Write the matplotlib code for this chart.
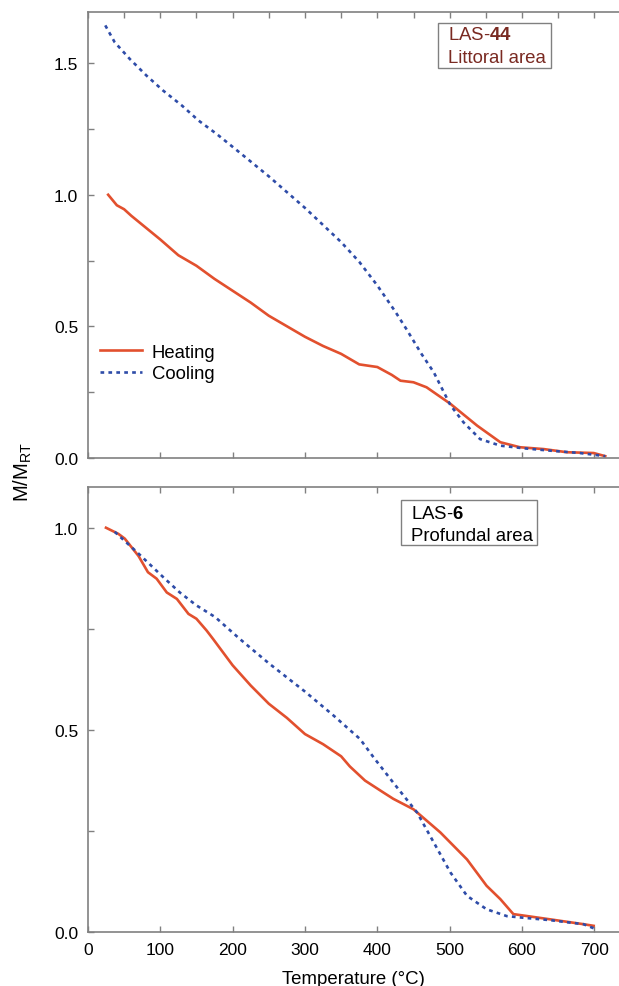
import matplotlib
matplotlib.use('Agg')
import matplotlib.pyplot as plt
from matplotlib.patches import Rectangle
import numpy as np

plt.rcParams['font.family'] = ['Liberation Sans', 'DejaVu Sans']
plt.rcParams['mathtext.fontset'] = 'custom'
plt.rcParams['mathtext.rm'] = 'Liberation Sans'
plt.rcParams['mathtext.bf'] = 'Liberation Sans:bold'

# LAS-44, littoral area
top_heat_T = [28, 40, 50, 60, 80, 100, 125, 150, 175, 200, 225, 250, 275, 300, 325, 350, 375, 400,
              420, 432, 450, 468, 501, 538, 570, 597, 630, 662, 699, 715]
top_heat_M = [1.0, 0.96, 0.945, 0.92, 0.875, 0.83, 0.77, 0.73, 0.68, 0.635, 0.59, 0.54, 0.50, 0.46,
              0.425, 0.395, 0.355, 0.345, 0.315, 0.293, 0.287, 0.268, 0.205, 0.122, 0.059, 0.04,
              0.033, 0.021, 0.018, 0.006]
top_cool_T = [24, 37, 58, 81, 104, 130, 153, 178, 201, 226, 250, 275, 300, 325, 350, 375, 400,
              425, 440, 461, 478, 501, 519, 542, 570, 602, 639, 680, 715]
top_cool_M = [1.644, 1.58, 1.516, 1.453, 1.396, 1.339, 1.282, 1.231, 1.18, 1.124, 1.07, 1.01, 0.95,
              0.885, 0.82, 0.745, 0.655, 0.555, 0.49, 0.395, 0.325, 0.2, 0.135, 0.071, 0.046,
              0.036, 0.027, 0.018, 0.006]

# LAS-6, profundal area
bot_heat_T = [25, 42, 51, 70, 83, 95, 109, 123, 139, 150, 164, 173, 200, 225, 250, 275, 300, 325,
              350, 362, 383, 408, 422, 450, 487, 524, 551, 570, 588, 639, 685, 699]
bot_heat_M = [1.0, 0.985, 0.973, 0.93, 0.89, 0.874, 0.84, 0.824, 0.787, 0.775, 0.746, 0.725, 0.66,
              0.61, 0.565, 0.53, 0.49, 0.465, 0.435, 0.41, 0.375, 0.346, 0.33, 0.304, 0.247, 0.18,
              0.115, 0.082, 0.045, 0.032, 0.02, 0.016]
bot_cool_T = [37, 70, 104, 127, 150, 176, 210, 250, 300, 340, 362, 376, 395, 422, 455, 478, 501,
              524, 551, 579, 602, 639, 685, 699]
bot_cool_M = [0.99, 0.936, 0.878, 0.84, 0.808, 0.779, 0.725, 0.665, 0.595, 0.535, 0.50, 0.478,
              0.432, 0.37, 0.296, 0.222, 0.148, 0.09, 0.057, 0.04, 0.036, 0.03, 0.02, 0.01]

heat_color = '#E2502E'
cool_color = '#2E4CA8'
spine_color = '#808080'

fig = plt.figure(figsize=(6.19, 9.87), dpi=100)
ax1 = fig.add_axes([0.142, 0.5352, 0.858, 0.4514])
ax2 = fig.add_axes([0.142, 0.0544, 0.858, 0.4509])

ax1.plot(top_heat_T, top_heat_M, color=heat_color, lw=1.9, label='Heating')
ax1.plot(top_cool_T, top_cool_M, color=cool_color, lw=1.9, ls=(0, (1.4, 1.6)), label='Cooling')
ax2.plot(bot_heat_T, bot_heat_M, color=heat_color, lw=1.9)
ax2.plot(bot_cool_T, bot_cool_M, color=cool_color, lw=1.9, ls=(0, (1.4, 1.6)))

ax1.set_ylim(0, 1.694)
ax2.set_ylim(0, 1.10)

for ax, ymax in [(ax1, 1.694), (ax2, 1.10)]:
    ax.set_xlim(0, 734)
    ax.set_xticks(np.arange(0, 701, 100))
    yt = np.arange(0, ymax, 0.25)
    ax.set_yticks(yt)
    ax.set_yticklabels(['%.1f' % v if abs(v * 2 - round(v * 2)) < 1e-6 else '' for v in yt])
    ax.tick_params(direction='in', length=4, width=1, color=spine_color, top=True,
                   labelsize=12.5, pad=7)
    ax.spines['right'].set_visible(False)
    for s in ['left', 'bottom', 'top']:
        ax.spines[s].set_color(spine_color)
        ax.spines[s].set_linewidth(1.2)

# top panel has extra ticks every 50 on the upper edge
ax1.set_xticks(np.arange(50, 734, 100), minor=True)
ax1.tick_params(which='minor', direction='in', length=4, width=1, color=spine_color,
                bottom=False, top=True)
ax1.set_xticklabels([])

ax2.set_xlabel('Temperature (°C)', fontsize=13.4, labelpad=9)
fig.text(0.037, 0.522, r'M/M$_{\mathrm{RT}}$', rotation=90, fontsize=14.5, ha='center', va='center')

ax1.legend(loc='center left', bbox_to_anchor=(100 / 619, 1 - 364 / 987),
           bbox_transform=fig.transFigure, frameon=False, fontsize=13.3, borderpad=0,
           borderaxespad=0, handlelength=2.3, handletextpad=0.5, labelspacing=0.25)

# sample boxes
fig.patches.append(Rectangle((0.7076, 0.9298), 0.1826, 0.0456, transform=fig.transFigure,
                             fill=False, edgecolor=spine_color, lw=1))
fig.text(0.7237, 0.9642, r'LAS-$\mathbf{44}$', color='#7A2A22', fontsize=13.4, va='center')
fig.text(0.7237, 0.9409, 'Littoral area', color='#7A2A22', fontsize=13.4, va='center')

fig.patches.append(Rectangle((0.6473, 0.4468), 0.2197, 0.0459, transform=fig.transFigure,
                             fill=False, edgecolor=spine_color, lw=1))
fig.text(0.6635, 0.4792, r'LAS-$\mathbf{6}$', color='black', fontsize=13.4, va='center')
fig.text(0.6635, 0.4569, 'Profundal area', color='black', fontsize=13.4, va='center')

fig.savefig('out.png', dpi=100)
